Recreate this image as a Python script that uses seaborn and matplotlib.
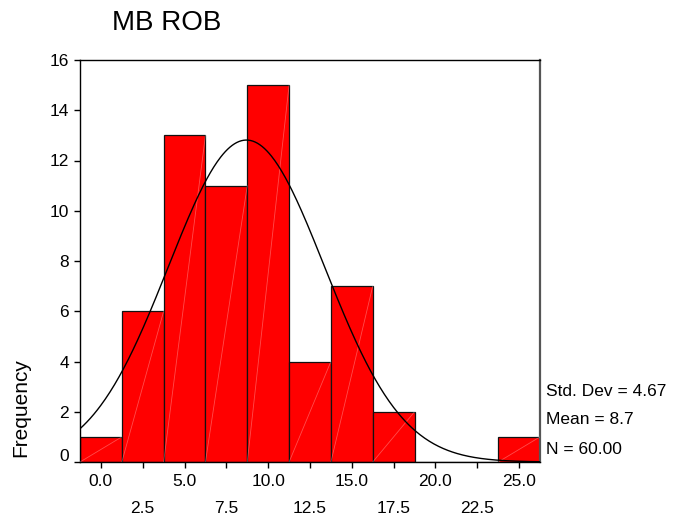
import numpy as np
import pandas as pd
import matplotlib
matplotlib.use("Agg")
import matplotlib.pyplot as plt
import matplotlib.transforms as mtransforms
from matplotlib.ticker import FixedLocator, FormatStrFormatter
import seaborn as sns

# ---- data ----
bin_centers = [0.0, 2.5, 5.0, 7.5, 10.0, 12.5, 15.0, 17.5, 20.0, 22.5, 25.0]
counts = [1, 6, 13, 11, 15, 4, 7, 2, 0, 0, 1]
bin_width = 2.5
std_dev = 4.67
mean = 8.7
n_total = 60
title = "MB ROB"
y_label = "Frequency"
y_ticks = [0, 2, 4, 6, 8, 10, 12, 14, 16]
stats_lines = ["Std. Dev = 4.67", "Mean = 8.7", "N = 60.00"]

sns.set_style("ticks")
plt.rcParams["font.family"] = ["Liberation Sans", "DejaVu Sans"]
plt.rcParams["text.color"] = "black"
plt.rcParams["xtick.color"] = "black"
plt.rcParams["ytick.color"] = "black"

df = pd.DataFrame({"center": bin_centers, "count": counts})

fig = plt.figure(figsize=(6.75, 5.25), dpi=100)
ax = fig.add_axes([80 / 675, 63 / 525, 460 / 675, 402 / 525])

lo = bin_centers[0] - bin_width / 2
hi = bin_centers[-1] + bin_width / 2
sns.histplot(data=df, x="center", weights="count", binwidth=bin_width,
             binrange=(lo, hi), color="#FF0000", alpha=1.0,
             edgecolor="#111111", linewidth=0.9, ax=ax, zorder=2)

# faint white diagonals inside bars (rendering artefact of the original)
for c, k in zip(bin_centers, counts):
    if k > 0:
        ax.plot([c - bin_width / 2, c + bin_width / 2], [0, k],
                color="white", alpha=0.3, lw=0.6, zorder=3)

# normal curve
xs = np.linspace(lo, hi, 400)
ys = n_total * bin_width / (std_dev * np.sqrt(2 * np.pi)) * np.exp(-0.5 * ((xs - mean) / std_dev) ** 2)
sns.lineplot(x=xs, y=ys, color="black", lw=1.0, ax=ax, zorder=4)

ax.set_xlim(lo, hi)
ax.set_ylim(0, 16)
ax.set_xlabel("")
ax.set_ylabel("")

ax.yaxis.set_major_locator(FixedLocator(y_ticks))
ax.xaxis.set_major_locator(FixedLocator(bin_centers[0::2]))
ax.xaxis.set_minor_locator(FixedLocator(bin_centers[1::2]))
ax.xaxis.set_major_formatter(FormatStrFormatter("%.1f"))
ax.xaxis.set_minor_formatter(FormatStrFormatter("%.1f"))
ax.tick_params(axis="both", which="both", direction="out", length=4, width=1,
               color="black", labelsize=12.5, labelcolor="black")
ax.tick_params(axis="x", which="major", pad=5)
ax.tick_params(axis="x", which="minor", pad=24)
ax.tick_params(axis="y", pad=4)

for s in ["left", "bottom", "top"]:
    ax.spines[s].set_visible(True)
    ax.spines[s].set_color("black")
    ax.spines[s].set_linewidth(1.0)
ax.spines["right"].set_visible(True)
ax.spines["right"].set_color("#555555")
ax.spines["right"].set_linewidth(1.6)

# SPSS places the "0" label slightly above its tick
fig.canvas.draw()
lab0 = ax.get_yticklabels()[0]
lab0.set_transform(lab0.get_transform() + mtransforms.ScaledTranslation(0, 7 / 100, fig.dpi_scale_trans))

fig.text(112 / 675, 1 - 30 / 525, title, fontsize=20, ha="left", va="baseline", color="black")
fig.text(21 / 675, 1 - 408 / 525, y_label, fontsize=15, rotation=90, ha="center", va="center", color="black")
for i, line in enumerate(stats_lines):
    fig.text(546 / 675, 1 - (391 + 29 * i) / 525, line, fontsize=12.5, ha="left", va="center", color="black")

fig.savefig("out.png", dpi=100)
